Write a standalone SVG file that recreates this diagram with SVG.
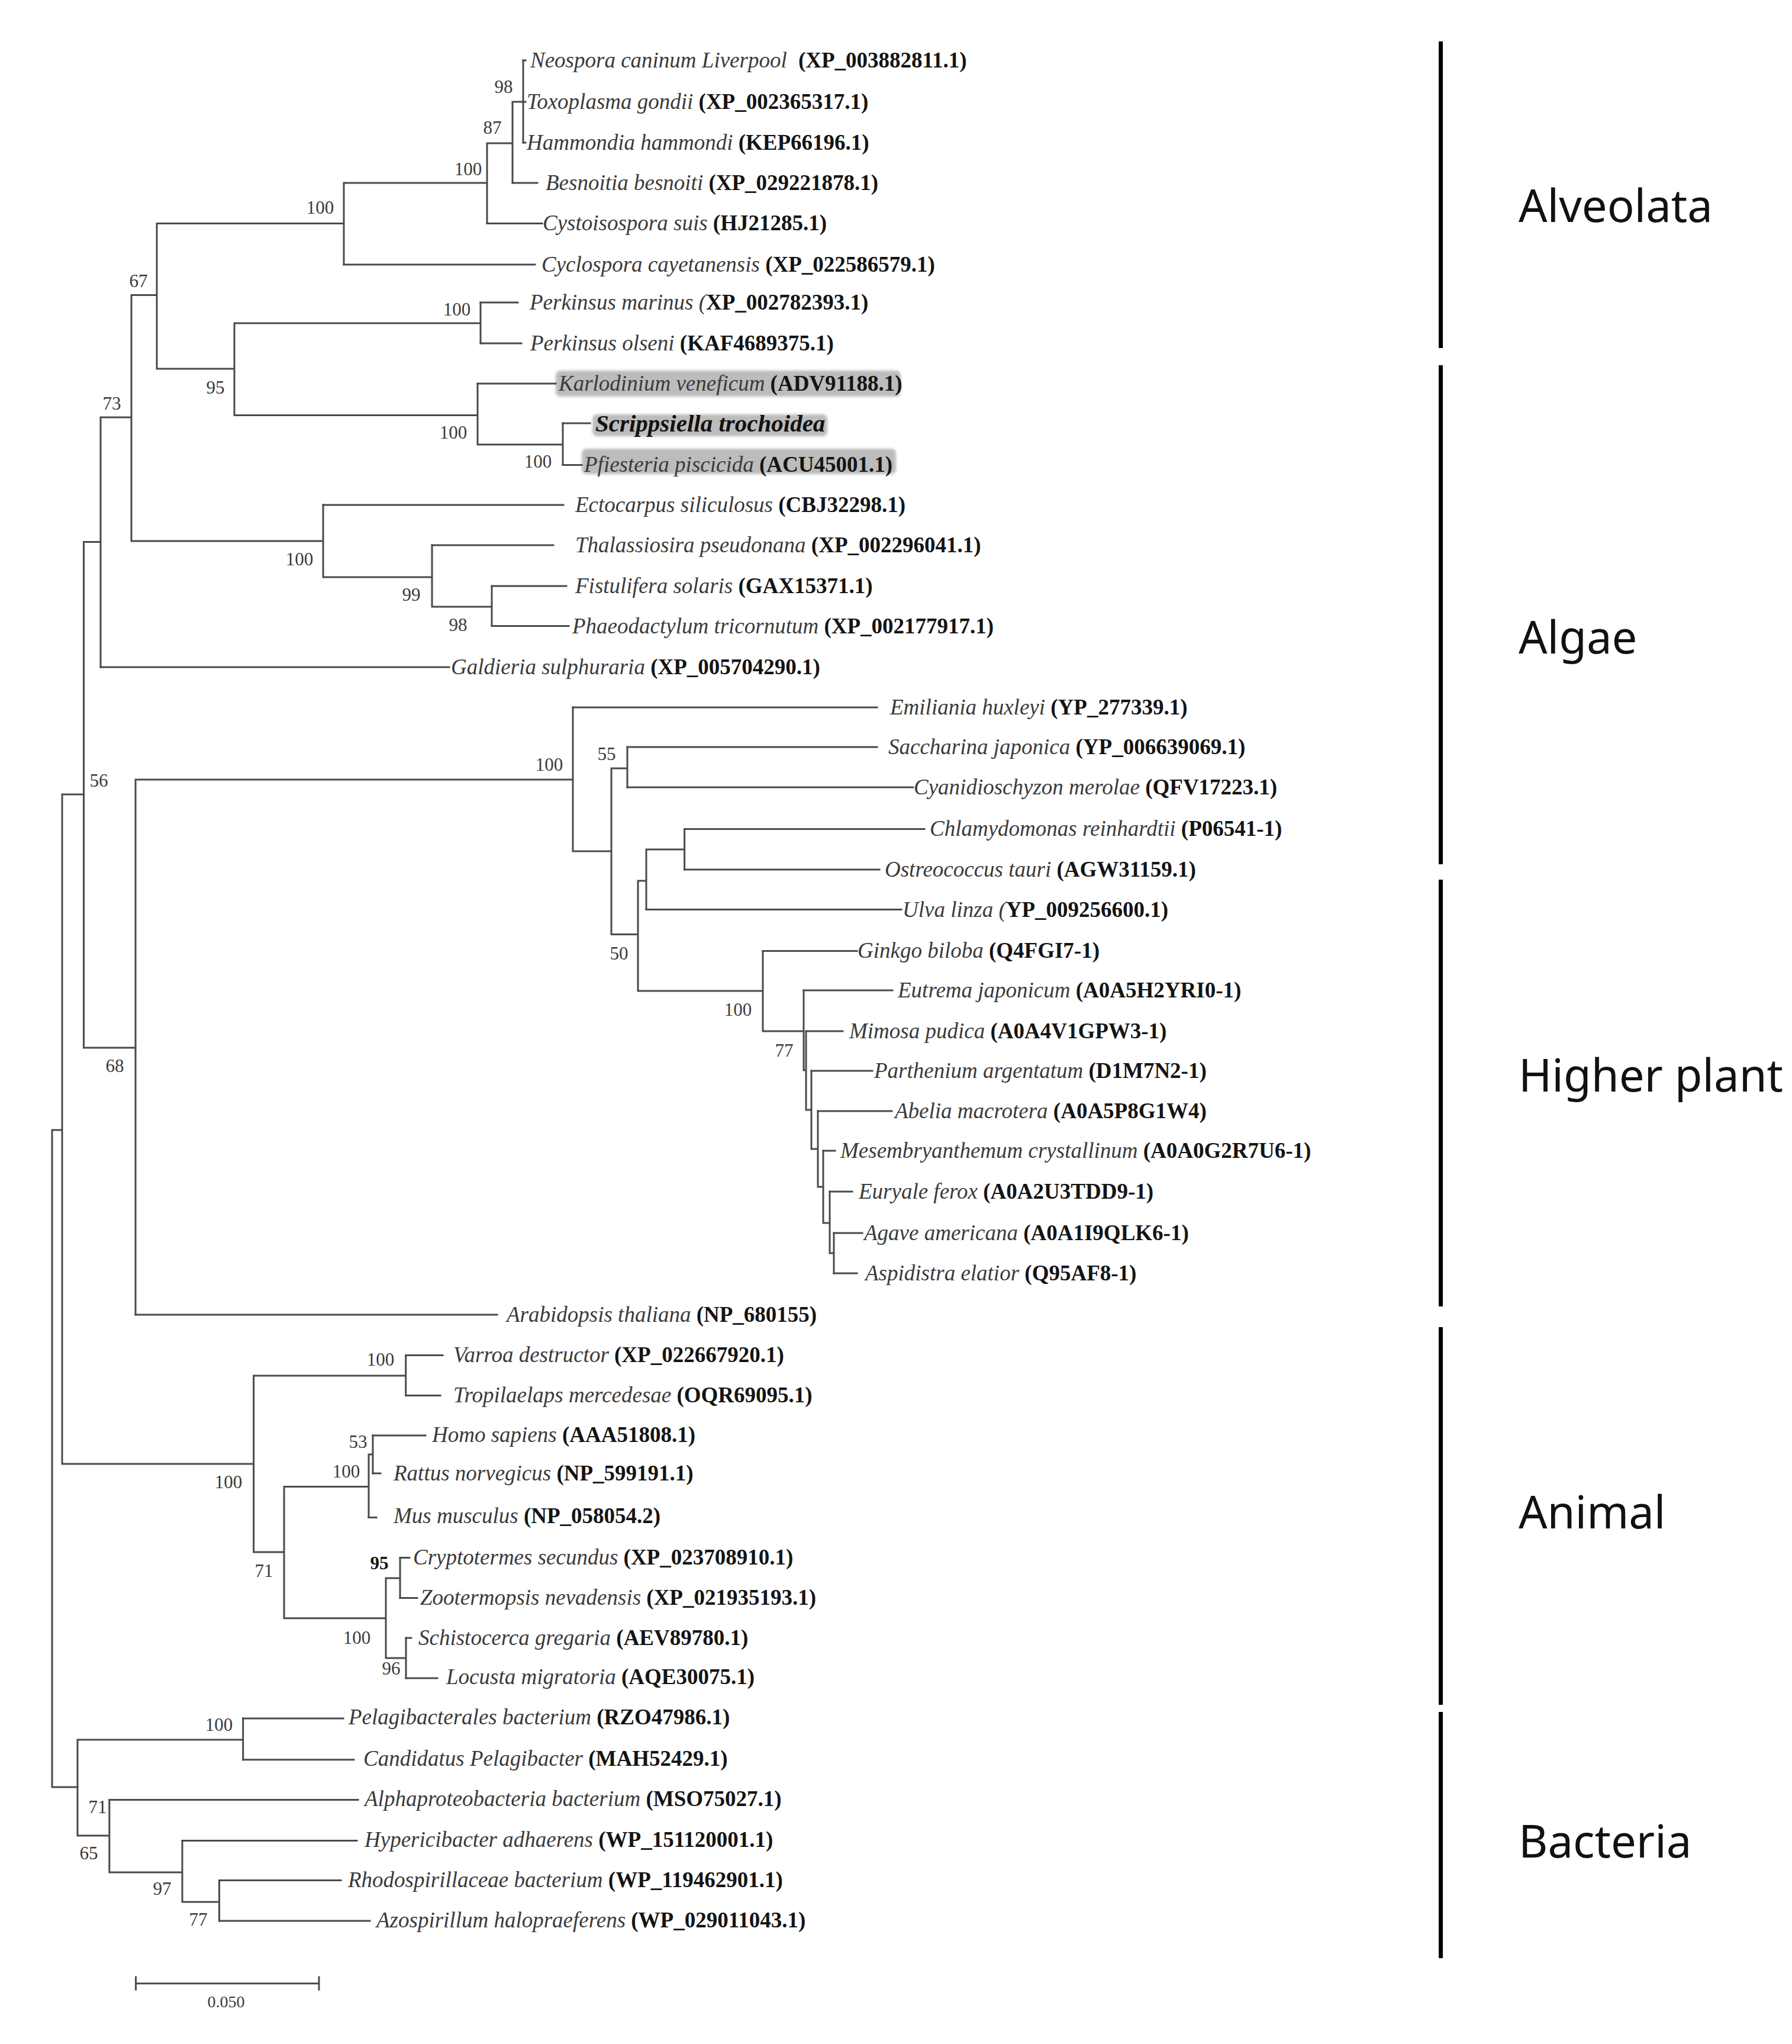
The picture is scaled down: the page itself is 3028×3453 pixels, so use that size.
<svg xmlns="http://www.w3.org/2000/svg" width="3028" height="3453" viewBox="0 0 3028 3453">
<style>
.br{stroke:#4a4a4a;stroke-width:3;fill:none;stroke-linecap:square}
.t{font-family:"Liberation Serif","Times New Roman",serif;font-size:37px}
.i{font-style:italic;fill:#3a3a3a}
.b{font-weight:bold;fill:#141414}
.bs{font-family:"Liberation Serif","Times New Roman",serif;font-size:31px;fill:#3a3a3a;text-anchor:middle}
.grp{font-family:"Noto Sans","Liberation Sans",sans-serif;font-size:76px;fill:#111}
.hl{fill:#bcbcbc}
.bar{fill:#000}
</style>
<defs>
<filter id="soft" x="-5%" y="-30%" width="110%" height="160%"><feGaussianBlur stdDeviation="2"/></filter>
</defs>
<rect width="3028" height="3453" fill="#fff"/>

<g id="highlights" filter="url(#soft)">
<rect class="hl" x="939" y="626" width="583" height="44" rx="8"/>
<rect class="hl" x="1001" y="700" width="397" height="37" rx="8"/>
<rect class="hl" x="983" y="758" width="531" height="43" rx="8"/>
</g>

<g id="connectors">
<path class="br" d="M88,1909V3019 M88,1909H105 M88,3019H131 M105,1342V2473 M105,1342H141.5 M105,2473H428.6 M141.5,915.6V1770 M141.5,915.6H170 M141.5,1770H229 M170,705V1127 M170,705H222 M222,498.6V914 M222,498.6H265 M222,914H546 M265,377.5V623 M265,377.5H581 M265,623H396 M581,309V447 M581,309H823 M823,242V377.5 M823,242H866 M866,172V309 M866,172H884 M884,102V241 M396,546V701.5 M396,546H812 M396,701.5H807 M812,511V580 M807,648V751 M807,751H951 M951,715V785.5 M546,853V975 M546,975H730 M730,921V1025 M730,1025H831 M831,990V1057.6"/>
<path class="br" d="M229,1317V2221 M229,1317H968 M968,1195V1438 M968,1438H1033 M1033,1298V1578.5 M1033,1298H1060 M1033,1578.5H1078 M1060,1262V1330 M1078,1488V1674 M1078,1488H1092 M1078,1674H1289 M1092,1435V1536.6 M1092,1435H1156.6 M1156.6,1400.5V1469 M1289,1606.6V1742 M1289,1742H1358 M1358,1673V1808 M1358,1808H1362 M1362,1742V1875 M1362,1875H1371 M1371,1809V1941 M1371,1941H1382 M1382,1877V2005 M1382,2005H1391 M1391,1944V2066 M1391,2066H1402 M1402,2013V2117 M1402,2117H1409 M1409,2083V2151"/>
<path class="br" d="M428.6,2324V2622 M428.6,2324H685.7 M428.6,2622H480 M685.7,2289.5V2357.4 M480,2511.6V2733.8 M480,2511.6H623 M480,2733.8H652 M623,2457V2563.6 M623,2457H630 M630,2425V2489 M652,2666V2801 M652,2666H676 M652,2801H686 M676,2631.5V2699.4 M686,2767V2835 M131,2939V3101 M131,2939H410.7 M131,3101H184.8 M410.7,2903V2972.7 M184.8,3040.6V3163 M184.8,3163H308 M308,3109.4V3213 M308,3213H370.5 M370.5,3176.5V3245"/>
<path class="br" d="M884,102H888 M884,172H888 M884,241H888 M866,309H908 M823,377.5H916 M581,447H904 M812,511H875 M812,580H881 M807,648H939 M951,715H997 M951,785.5H983 M546,853H952 M730,921H935 M831,990H957 M831,1057.6H961 M170,1127H759 M968,1195H1482 M1060,1262H1482 M1060,1330H1543 M1156.6,1400.5H1562 M1156.6,1469H1486 M1092,1536.6H1523 M1289,1606.6H1448 M1358,1673H1508 M1362,1742H1424 M1371,1809H1474 M1382,1877H1507 M1391,1944H1411 M1402,2013H1440 M1409,2083H1457 M1409,2151H1448 M229,2221H840 M685.7,2289.5H748 M685.7,2357.4H744 M630,2425H719 M630,2489H643 M623,2563.6H636 M676,2631.5H692 M676,2699.4H705 M686,2767H695 M686,2835H739 M410.7,2903H580 M410.7,2972.7H598 M184.8,3040.6H605 M308,3109.4H603 M370.5,3176.5H576 M370.5,3245H625"/>
</g>

<g id="bootstrap">
<text class="bs" x="851" y="157">98</text>
<text class="bs" x="832" y="226">87</text>
<text class="bs" x="791" y="296">100</text>
<text class="bs" x="541" y="361">100</text>
<text class="bs" x="234" y="485">67</text>
<text class="bs" x="772" y="533">100</text>
<text class="bs" x="364" y="665">95</text>
<text class="bs" x="189" y="692">73</text>
<text class="bs" x="766" y="741">100</text>
<text class="bs" x="909" y="790">100</text>
<text class="bs" x="506" y="955">100</text>
<text class="bs" x="695" y="1015">99</text>
<text class="bs" x="774" y="1066">98</text>
<text class="bs" x="928" y="1302">100</text>
<text class="bs" x="1025" y="1284">55</text>
<text class="bs" x="167" y="1329">56</text>
<text class="bs" x="1046" y="1621">50</text>
<text class="bs" x="1247" y="1716">100</text>
<text class="bs" x="1325" y="1785">77</text>
<text class="bs" x="194" y="1811">68</text>
<text class="bs" x="643" y="2307">100</text>
<text class="bs" x="605" y="2446">53</text>
<text class="bs" x="585" y="2496">100</text>
<text class="bs" x="386" y="2514">100</text>
<text class="bs" x="641" y="2651" style="font-weight:bold;fill:#141414">95</text>
<text class="bs" x="446" y="2664">71</text>
<text class="bs" x="603" y="2777">100</text>
<text class="bs" x="661" y="2829">96</text>
<text class="bs" x="370" y="2924">100</text>
<text class="bs" x="165" y="3063">71</text>
<text class="bs" x="150" y="3141">65</text>
<text class="bs" x="274" y="3201">97</text>
<text class="bs" x="335" y="3253">77</text>
</g>

<g id="n-neospora"><text class="t" x="896" y="114"><tspan class="i">Neospora caninum Liverpool</tspan> <tspan class="b" dx="10">(XP_003882811.1)</tspan></text></g>
<g id="n-toxoplasma"><text class="t" x="890" y="184"><tspan class="i">Toxoplasma gondii</tspan> <tspan class="b">(XP_002365317.1)</tspan></text></g>
<g id="n-hammondia"><text class="t" x="890" y="253"><tspan class="i">Hammondia hammondi</tspan> <tspan class="b">(KEP66196.1)</tspan></text></g>
<g id="n-besnoitia"><text class="t" x="922" y="321"><tspan class="i">Besnoitia besnoiti</tspan> <tspan class="b">(XP_029221878.1)</tspan></text></g>
<g id="n-cystoisospora"><text class="t" x="917" y="389"><tspan class="i">Cystoisospora suis</tspan> <tspan class="b">(HJ21285.1)</tspan></text></g>
<g id="n-cyclospora"><text class="t" x="915" y="459"><tspan class="i">Cyclospora cayetanensis</tspan> <tspan class="b">(XP_022586579.1)</tspan></text></g>
<g id="n-perkinsus-marinus"><text class="t" x="895" y="523"><tspan class="i">Perkinsus marinus (</tspan><tspan class="b">XP_002782393.1)</tspan></text></g>
<g id="n-perkinsus-olseni"><text class="t" x="896" y="592"><tspan class="i">Perkinsus olseni</tspan> <tspan class="b">(KAF4689375.1)</tspan></text></g>
<g id="n-karlodinium"><text class="t" x="944" y="660"><tspan class="i">Karlodinium veneficum</tspan> <tspan class="b">(ADV91188.1)</tspan></text></g>
<g id="n-scrippsiella"><text class="t" x="1006" y="729" style="font-size:41px;font-style:italic;font-weight:bold;fill:#111">Scrippsiella trochoidea</text></g>
<g id="n-pfiesteria"><text class="t" x="987" y="797"><tspan class="i">Pfiesteria piscicida</tspan> <tspan class="b">(ACU45001.1)</tspan></text></g>
<g id="n-ectocarpus"><text class="t" x="972" y="865"><tspan class="i">Ectocarpus siliculosus</tspan> <tspan class="b">(CBJ32298.1)</tspan></text></g>
<g id="n-thalassiosira"><text class="t" x="972" y="933"><tspan class="i">Thalassiosira pseudonana</tspan> <tspan class="b">(XP_002296041.1)</tspan></text></g>
<g id="n-fistulifera"><text class="t" x="972" y="1002"><tspan class="i">Fistulifera solaris</tspan> <tspan class="b">(GAX15371.1)</tspan></text></g>
<g id="n-phaeodactylum"><text class="t" x="967" y="1070"><tspan class="i">Phaeodactylum tricornutum</tspan> <tspan class="b">(XP_002177917.1)</tspan></text></g>
<g id="n-galdieria"><text class="t" x="762" y="1139"><tspan class="i">Galdieria sulphuraria</tspan> <tspan class="b">(XP_005704290.1)</tspan></text></g>
<g id="n-emiliania"><text class="t" x="1504" y="1207"><tspan class="i">Emiliania huxleyi</tspan> <tspan class="b">(YP_277339.1)</tspan></text></g>
<g id="n-saccharina"><text class="t" x="1501" y="1274"><tspan class="i">Saccharina japonica</tspan> <tspan class="b">(YP_006639069.1)</tspan></text></g>
<g id="n-cyanidioschyzon"><text class="t" x="1544" y="1342"><tspan class="i">Cyanidioschyzon merolae</tspan> <tspan class="b">(QFV17223.1)</tspan></text></g>
<g id="n-chlamydomonas"><text class="t" x="1571" y="1412"><tspan class="i">Chlamydomonas reinhardtii</tspan> <tspan class="b">(P06541-1)</tspan></text></g>
<g id="n-ostreococcus"><text class="t" x="1495" y="1481"><tspan class="i">Ostreococcus tauri</tspan> <tspan class="b">(AGW31159.1)</tspan></text></g>
<g id="n-ulva"><text class="t" x="1525" y="1549"><tspan class="i">Ulva linza (</tspan><tspan class="b">YP_009256600.1)</tspan></text></g>
<g id="n-ginkgo"><text class="t" x="1449" y="1618"><tspan class="i">Ginkgo biloba</tspan> <tspan class="b">(Q4FGI7-1)</tspan></text></g>
<g id="n-eutrema"><text class="t" x="1517" y="1685"><tspan class="i">Eutrema japonicum</tspan> <tspan class="b">(A0A5H2YRI0-1)</tspan></text></g>
<g id="n-mimosa"><text class="t" x="1435" y="1754"><tspan class="i">Mimosa pudica</tspan> <tspan class="b">(A0A4V1GPW3-1)</tspan></text></g>
<g id="n-parthenium"><text class="t" x="1477" y="1821"><tspan class="i">Parthenium argentatum</tspan> <tspan class="b">(D1M7N2-1)</tspan></text></g>
<g id="n-abelia"><text class="t" x="1512" y="1889"><tspan class="i">Abelia macrotera</tspan> <tspan class="b">(A0A5P8G1W4)</tspan></text></g>
<g id="n-mesembryanthemum"><text class="t" x="1420" y="1956"><tspan class="i">Mesembryanthemum crystallinum</tspan> <tspan class="b">(A0A0G2R7U6-1)</tspan></text></g>
<g id="n-euryale"><text class="t" x="1451" y="2025"><tspan class="i">Euryale ferox</tspan> <tspan class="b">(A0A2U3TDD9-1)</tspan></text></g>
<g id="n-agave"><text class="t" x="1460" y="2095"><tspan class="i">Agave americana</tspan> <tspan class="b">(A0A1I9QLK6-1)</tspan></text></g>
<g id="n-aspidistra"><text class="t" x="1462" y="2163"><tspan class="i">Aspidistra elatior</tspan> <tspan class="b">(Q95AF8-1)</tspan></text></g>
<g id="n-arabidopsis"><text class="t" x="856" y="2233"><tspan class="i">Arabidopsis thaliana</tspan> <tspan class="b">(NP_680155)</tspan></text></g>
<g id="n-varroa"><text class="t" x="766" y="2301"><tspan class="i">Varroa destructor</tspan> <tspan class="b">(XP_022667920.1)</tspan></text></g>
<g id="n-tropilaelaps"><text class="t" x="766" y="2369"><tspan class="i">Tropilaelaps mercedesae</tspan> <tspan class="b">(OQR69095.1)</tspan></text></g>
<g id="n-homo"><text class="t" x="730" y="2436"><tspan class="i">Homo sapiens</tspan> <tspan class="b">(AAA51808.1)</tspan></text></g>
<g id="n-rattus"><text class="t" x="665" y="2501"><tspan class="i">Rattus norvegicus</tspan> <tspan class="b">(NP_599191.1)</tspan></text></g>
<g id="n-mus"><text class="t" x="665" y="2573"><tspan class="i">Mus musculus</tspan> <tspan class="b">(NP_058054.2)</tspan></text></g>
<g id="n-cryptotermes"><text class="t" x="698" y="2643"><tspan class="i">Cryptotermes secundus</tspan> <tspan class="b">(XP_023708910.1)</tspan></text></g>
<g id="n-zootermopsis"><text class="t" x="710" y="2711"><tspan class="i">Zootermopsis nevadensis</tspan> <tspan class="b">(XP_021935193.1)</tspan></text></g>
<g id="n-schistocerca"><text class="t" x="707" y="2779"><tspan class="i">Schistocerca gregaria</tspan> <tspan class="b">(AEV89780.1)</tspan></text></g>
<g id="n-locusta"><text class="t" x="754" y="2845"><tspan class="i">Locusta migratoria</tspan> <tspan class="b">(AQE30075.1)</tspan></text></g>
<g id="n-pelagibacterales"><text class="t" x="589" y="2913"><tspan class="i">Pelagibacterales bacterium</tspan> <tspan class="b">(RZO47986.1)</tspan></text></g>
<g id="n-candidatus"><text class="t" x="614" y="2983"><tspan class="i">Candidatus Pelagibacter</tspan> <tspan class="b">(MAH52429.1)</tspan></text></g>
<g id="n-alphaproteobacteria"><text class="t" x="616" y="3051"><tspan class="i">Alphaproteobacteria bacterium</tspan> <tspan class="b">(MSO75027.1)</tspan></text></g>
<g id="n-hypericibacter"><text class="t" x="616" y="3120"><tspan class="i">Hypericibacter adhaerens</tspan> <tspan class="b">(WP_151120001.1)</tspan></text></g>
<g id="n-rhodospirillaceae"><text class="t" x="588" y="3188"><tspan class="i">Rhodospirillaceae bacterium</tspan> <tspan class="b">(WP_119462901.1)</tspan></text></g>
<g id="n-azospirillum"><text class="t" x="636" y="3256"><tspan class="i">Azospirillum halopraeferens</tspan> <tspan class="b">(WP_029011043.1)</tspan></text></g>

<g id="scale-bar">
<path class="br" d="M229.5,3350.7H539 M229.5,3340V3361 M539,3340V3361"/>
<text class="bs" x="382" y="3391" style="font-size:28px">0.050</text>
</g>

<g id="groups">
<rect class="bar" x="2431" y="70" width="7" height="518"/>
<rect class="bar" x="2431" y="617" width="7" height="843"/>
<rect class="bar" x="2431" y="1486" width="7" height="721"/>
<rect class="bar" x="2431" y="2242" width="7" height="638"/>
<rect class="bar" x="2431" y="2892" width="7" height="416"/>
<text class="grp" x="2566" y="375">Alveolata</text>
<text class="grp" x="2566" y="1104">Algae</text>
<text class="grp" x="2566" y="1844">Higher plant</text>
<text class="grp" x="2566" y="2582">Animal</text>
<text class="grp" x="2566" y="3138">Bacteria</text>
</g>
</svg>
